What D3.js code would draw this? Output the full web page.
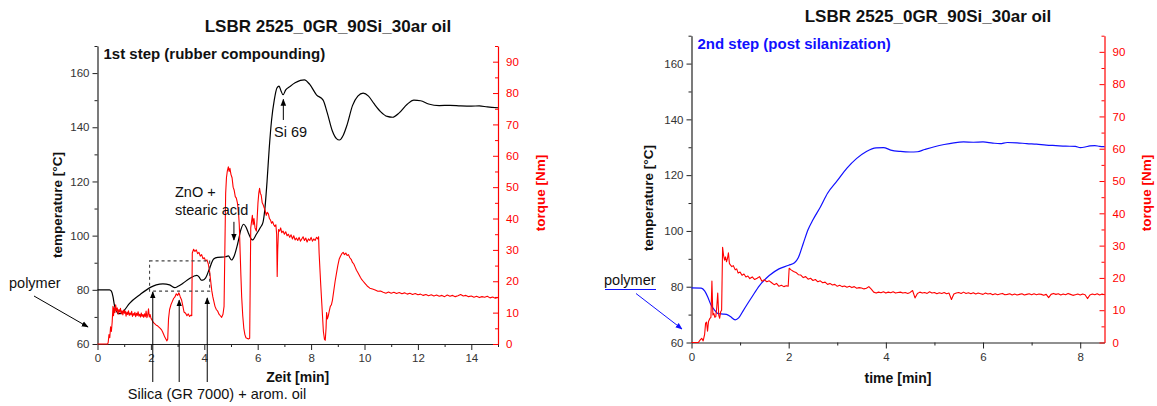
<!DOCTYPE html>
<html><head><meta charset="utf-8">
<script src="https://cdn.jsdelivr.net/npm/d3@7"></script>
<style>
body{margin:0;background:#fff;}
svg{display:block;font-family:"Liberation Sans",Arial,Helvetica,sans-serif;}
</style></head><body>
<svg id="c" width="1157" height="406"></svg>
<script>
// ---- 1st step: rubber compounding ----
const step1Temp = [[0,80],[0.45,80],[0.52,79.5],[0.58,77.5],[0.63,74.5],[0.7,72.3],[0.8,71.2],[0.9,71.4],[1.0,72.4],[1.2,75],[1.6,78.3],[2.0,81],[2.2,81.8],[2.45,82.2],[2.7,81.8],[2.9,80.8],[3.0,81.2],[3.2,82.4],[3.45,84.2],[3.72,85.3],[3.8,84.8],[3.88,83.6],[3.95,83.6],[4.05,84.4],[4.2,88],[4.35,91.4],[4.5,92],[4.8,92.2],[4.9,92.5],[5.02,91],[5.12,92.5],[5.25,97],[5.38,102.5],[5.47,104.2],[5.56,103.2],[5.65,101],[5.8,98.4],[5.95,100.5],[6.1,103],[6.2,105],[6.27,110],[6.35,120],[6.43,132],[6.52,142.7],[6.62,150],[6.72,154.5],[6.8,155.2],[6.87,153.5],[6.95,152],[7.05,153.8],[7.2,155],[7.4,156.4],[7.6,157.3],[7.75,157.5],[7.95,155.8],[8.2,152],[8.45,150],[8.6,145.5],[8.8,138.5],[8.95,135.8],[9.06,135.3],[9.2,137],[9.35,141],[9.55,148],[9.75,151.5],[9.95,152.6],[10.15,151.5],[10.35,148.8],[10.6,145.8],[10.85,144],[11.05,143.7],[11.3,145.3],[11.6,148.5],[11.85,150],[12.1,149.8],[12.4,148.6],[12.8,148],[13.2,148.1],[13.6,147.9],[14.0,147.8],[14.3,147.9],[14.6,147.5],[15,147.2]];

const step1Torque = [[0,0],[0.38,0],[0.4,0.5],[0.43,3],[0.46,2],[0.49,5.5],[0.52,4],[0.55,7],[0.58,12],[0.6,9],[0.62,11.5],[0.65,10],[0.68,12.5],[0.71,10.5],[0.74,11.5],[0.77,9.5],[0.8,11],[0.83,10.2],[0.86,11.4],[0.89,9.6],[0.92,10.6],[0.95,9.3],[0.98,10.8],[1.01,9.8],[1.04,10.5],[1.07,8.9],[1.1,10.2],[1.13,9.4],[1.16,10.6],[1.19,9.1],[1.22,9.9],[1.25,9.3],[1.28,10.4],[1.31,8.8],[1.34,9.7],[1.37,9.2],[1.4,10.1],[1.43,8.7],[1.46,9.8],[1.49,9.1],[1.52,10.3],[1.55,8.9],[1.58,9.5],[1.61,8.6],[1.64,9.9],[1.67,8.8],[1.7,9.4],[1.73,8.5],[1.76,9.6],[1.79,8.7],[1.82,10.5],[1.85,8.4],[1.88,9.2],[1.91,11.2],[1.94,8.6],[1.97,9.4],[2.0,8.3],[2.05,7.5],[2.1,6.8],[2.15,6.4],[2.2,6],[2.25,5.8],[2.3,5.4],[2.35,5],[2.4,4.5],[2.44,3.8],[2.48,3],[2.52,2.2],[2.56,1.6],[2.6,1],[2.63,1.5],[2.66,8],[2.7,11],[2.75,12.5],[2.8,13.5],[2.85,14.5],[2.9,15],[2.95,16],[3.0,15.5],[3.05,16.3],[3.1,15],[3.15,14],[3.2,12],[3.24,10.2],[3.3,9.8],[3.35,9],[3.4,9.6],[3.45,8.8],[3.5,9.2],[3.53,9],[3.55,29],[3.6,30.2],[3.65,29.5],[3.7,30],[3.75,28.8],[3.8,29.2],[3.85,28],[3.9,28.5],[3.95,27.2],[4.0,27.5],[4.05,26.5],[4.1,26.8],[4.15,25.5],[4.2,23],[4.24,20],[4.28,17],[4.32,15],[4.36,13.5],[4.4,12],[4.45,11],[4.5,10.5],[4.55,9.5],[4.6,9],[4.65,8.5],[4.7,9.5],[4.74,12],[4.77,30],[4.8,48],[4.83,53],[4.86,55],[4.9,56.5],[4.93,55],[4.96,56],[5.0,54],[5.04,53],[5.08,50],[5.12,49],[5.16,47],[5.2,46.5],[5.24,45],[5.28,42],[5.31,38],[5.34,30],[5.37,22],[5.4,15],[5.44,9],[5.48,5],[5.52,3],[5.56,2],[5.6,1.8],[5.65,1.6],[5.7,1.8],[5.72,20],[5.74,37],[5.77,39],[5.8,41],[5.83,38],[5.86,40],[5.9,37],[5.95,36],[5.98,40],[6.01,45],[6.04,48],[6.07,49.6],[6.1,48],[6.13,47.5],[6.17,45],[6.2,44.5],[6.24,43.5],[6.28,42.5],[6.32,41],[6.36,42],[6.4,41.5],[6.44,40],[6.48,39.5],[6.52,38.5],[6.56,39],[6.6,38],[6.64,37.5],[6.68,38],[6.71,35],[6.73,21.5],[6.75,30],[6.78,36.5],[6.82,36],[6.86,37],[6.9,35.5],[6.95,36],[7.0,35],[7.05,35.8],[7.1,34.5],[7.15,35],[7.2,34],[7.25,34.8],[7.3,33.5],[7.35,34.5],[7.4,33.2],[7.45,33.8],[7.5,33],[7.55,34],[7.6,32.8],[7.65,33.5],[7.7,34.2],[7.75,33],[7.8,33.8],[7.85,32.5],[7.9,33.5],[7.95,33],[8.0,34],[8.05,32.8],[8.1,33.5],[8.15,33],[8.2,34],[8.25,33.5],[8.28,34.2],[8.3,29],[8.33,24],[8.36,19],[8.4,13],[8.43,8.5],[8.46,4],[8.5,1.5],[8.53,1.2],[8.56,5],[8.58,10],[8.61,8],[8.64,8.8],[8.68,10.5],[8.72,12],[8.76,12.5],[8.8,14],[8.85,17],[8.9,20],[8.95,22.5],[9.0,25],[9.05,27],[9.1,28],[9.15,28.8],[9.2,29.2],[9.25,28.5],[9.3,29],[9.35,28.2],[9.4,28.5],[9.45,27.5],[9.5,27],[9.55,26],[9.6,25.5],[9.65,24.5],[9.7,23.5],[9.75,22.8],[9.8,22],[9.85,21.2],[9.9,20.5],[9.95,20],[10.0,19.5],[10.1,18.5],[10.2,17.8],[10.3,17.5],[10.4,17.2],[10.5,16.8],[10.6,16.9],[10.7,16.5],[10.8,16.2],[10.9,16.6],[11.0,16.2],[11.1,16.5],[11.2,16.1],[11.3,16.4],[11.4,16],[11.5,16.3],[11.6,15.9],[11.7,16.2],[11.8,15.8],[11.9,16.1],[12.0,15.7],[12.1,15.9],[12.2,15.5],[12.3,15.8],[12.4,15.4],[12.5,15.7],[12.6,15.3],[12.7,15.6],[12.8,15.2],[12.9,15.5],[13.0,15.1],[13.1,15.6],[13.2,15.2],[13.3,15.5],[13.4,15.1],[13.5,15.4],[13.6,15.8],[13.7,15.3],[13.8,15.5],[13.9,15.1],[14.0,15.3],[14.1,14.9],[14.2,15.2],[14.3,14.8],[14.4,15.1],[14.5,14.9],[14.6,15.2],[14.7,14.7],[14.8,15],[14.9,14.6],[15,14.8]];

// ---- 2nd step: post silanization ----
const step2Temp = [[0,79.6],[0.2,79.5],[0.27,78.5],[0.33,76.5],[0.4,73.5],[0.48,71.5],[0.55,70.3],[0.65,70.2],[0.72,70.1],[0.8,69.3],[0.9,68.1],[0.97,68.8],[1.05,71],[1.15,73.8],[1.25,76.5],[1.4,80.4],[1.6,84],[1.8,86.4],[2.0,87.7],[2.12,88.6],[2.2,90.5],[2.3,95.5],[2.4,100.5],[2.5,104],[2.65,108.5],[2.8,113.5],[3.0,118],[3.2,122.5],[3.4,126],[3.6,128.5],[3.8,129.8],[3.95,129.9],[4.1,129],[4.3,128.5],[4.5,128.3],[4.65,128.4],[4.8,129.2],[5.0,130.2],[5.2,131],[5.4,131.6],[5.6,131.9],[5.8,131.8],[6.0,131.9],[6.2,131.5],[6.35,131.3],[6.5,131.7],[6.7,131.6],[6.9,131.3],[7.1,131.1],[7.3,130.8],[7.5,130.6],[7.7,130.4],[7.9,130.3],[8.0,129.9],[8.1,130.1],[8.2,130.5],[8.3,130.6],[8.4,130.3],[8.5,130.2]];

const step2Torque = [[0,0],[0.14,0],[0.18,0.8],[0.21,1.3],[0.24,0.5],[0.27,2.5],[0.29,6],[0.31,6.3],[0.33,3.5],[0.35,6.5],[0.38,7.5],[0.4,7.8],[0.42,19],[0.44,8.5],[0.46,9],[0.48,7.8],[0.5,8],[0.52,11],[0.54,15.3],[0.56,8.5],[0.58,7.5],[0.6,9.5],[0.62,10],[0.64,29.5],[0.66,27],[0.68,25.5],[0.7,26.5],[0.72,25],[0.74,26],[0.76,27.8],[0.78,24.5],[0.8,24],[0.83,23.5],[0.86,23.8],[0.9,22.5],[0.93,22.8],[0.96,21.5],[1.0,21.8],[1.04,20.8],[1.08,21.2],[1.12,20.3],[1.16,20.6],[1.2,19.8],[1.25,20.3],[1.3,19.5],[1.35,19.9],[1.4,20.4],[1.45,19],[1.5,19.4],[1.55,18.8],[1.6,19.1],[1.65,18.5],[1.7,17.9],[1.75,18.3],[1.8,17.4],[1.85,17.7],[1.9,17.3],[1.95,17.6],[1.99,17.4],[2.01,23],[2.05,22.5],[2.1,22],[2.15,21.7],[2.2,21],[2.25,20.9],[2.3,20.1],[2.35,20.4],[2.4,19.6],[2.45,19.9],[2.5,19.2],[2.55,19.5],[2.6,18.8],[2.65,19.1],[2.7,18.5],[2.75,18.7],[2.8,18],[2.85,18.3],[2.9,17.8],[2.95,18],[3.0,17.4],[3.05,17.7],[3.1,17.3],[3.15,17.5],[3.2,17.1],[3.25,17.4],[3.3,17],[3.35,17.3],[3.4,16.8],[3.45,17],[3.5,16.9],[3.55,16.6],[3.6,16.8],[3.65,17.3],[3.7,16.5],[3.75,15.6],[3.8,15.3],[3.85,15.6],[3.9,15.4],[3.95,15.7],[4.0,15.3],[4.05,15.6],[4.1,15.4],[4.15,15.7],[4.2,15.3],[4.25,15.5],[4.3,15.6],[4.35,15.3],[4.4,15.5],[4.45,15.2],[4.5,15.5],[4.55,16.1],[4.6,13.8],[4.65,15.2],[4.7,15.6],[4.75,15.3],[4.8,15.5],[4.85,15.2],[4.9,15.7],[4.95,15.3],[5.0,15.5],[5.05,15.1],[5.1,15.4],[5.15,15.2],[5.2,15.5],[5.25,15.1],[5.3,15.3],[5.35,13.3],[5.4,15],[5.45,15.3],[5.5,15.5],[5.55,15.2],[5.6,15.6],[5.65,15.2],[5.7,15.4],[5.75,15.1],[5.8,15.4],[5.85,15],[5.9,15.3],[5.95,15.1],[6.0,14.9],[6.05,15.3],[6.1,15],[6.15,15.2],[6.2,14.8],[6.25,15.1],[6.3,14.8],[6.35,15],[6.4,15.2],[6.45,14.8],[6.5,14.9],[6.55,15.1],[6.6,14.7],[6.65,15],[6.7,14.7],[6.75,14.9],[6.8,15.1],[6.85,14.7],[6.9,14.9],[6.95,15.1],[7.0,14.8],[7.05,15.1],[7.1,14.8],[7.15,15],[7.2,14.9],[7.25,14.6],[7.3,14.9],[7.35,13.9],[7.4,14.9],[7.45,15.2],[7.5,14.9],[7.55,15.1],[7.6,14.7],[7.65,15],[7.7,14.8],[7.75,15.2],[7.8,14.9],[7.85,14.6],[7.9,14.8],[7.95,15],[8.0,14.7],[8.05,15],[8.1,14.8],[8.15,13.6],[8.2,14.7],[8.25,15],[8.3,14.8],[8.35,15.1],[8.4,14.7],[8.45,15],[8.5,14.8]];

// tick values shared by both panels
const tempMajor = [60,80,100,120,140,160];
const tempMinor = [70,90,110,130,150,170];
const torqueMajor = [0,10,20,30,40,50,60,70,80,90];
const torqueMinor = [5,15,25,35,45,55,65,75,85,95];

// annotation anchors (data units)
const silicaArrows = [[2.07,79.2],[3.06,76.2],[4.11,77.0]];
const silicaBox = {t0:1.95, t1:4.2, lo:79.5, hi:90.7};
const zincArrow = {t:5.11, from:105.1, to:98.4};
const silaneArrow = {t:6.96, from:142.7, to:150.3};

const svg = d3.select("#c");
const RED = "#ff0000", BLUE = "#1010ff", AX = "#222";
const NOTE = "14.5px";

const defs = svg.append("defs");
function marker(id, color){
  defs.append("marker").attr("id", id).attr("viewBox","0 0 10 10")
    .attr("refX",9).attr("refY",5).attr("markerWidth",7).attr("markerHeight",7)
    .attr("markerUnits","userSpaceOnUse").attr("orient","auto")
    .append("path").attr("d","M0,1 L10,5 L0,9 Z").attr("fill",color);
}
marker("ahK", "#000");
marker("ahB", BLUE);

function panel(o){
  const g = svg.append("g");
  const x = d3.scaleLinear().domain([0,o.xmax]).range([o.left,o.right]);
  const yT = d3.scaleLinear().domain([60,170]).range([o.bottom,o.top]);
  const yQ = d3.scaleLinear().domain([0,95]).range([o.bottom,o.top]);

  const styleAxis = (sel, color) => {
    sel.selectAll("path.domain").attr("stroke", color).attr("stroke-width",1.2);
    sel.selectAll(".tick line").attr("stroke", color).attr("stroke-width",1);
    sel.selectAll(".tick text").attr("fill", color === RED ? RED : "#333")
      .style("font-size","11.5px").style("font-family",'"Liberation Sans",Arial,sans-serif');
  };

  // bottom axis
  const xMaj = d3.range(0, o.xmax + 1e-9, 2);
  const xMin = d3.range(1, o.xmax + 1e-9, 2);
  const gx = g.append("g").attr("transform",`translate(0,${o.bottom})`)
    .call(d3.axisBottom(x).tickValues(xMaj).tickSizeInner(6).tickSizeOuter(0).tickPadding(4).tickFormat(d3.format("d")));
  styleAxis(gx, AX);
  const gx2 = g.append("g").attr("transform",`translate(0,${o.bottom})`)
    .call(d3.axisBottom(x).tickValues(xMin).tickSizeInner(3).tickSizeOuter(0).tickFormat(""));
  gx2.select("path.domain").remove(); styleAxis(gx2, AX);

  // left temperature axis
  const gl = g.append("g").attr("transform",`translate(${o.left},0)`)
    .call(d3.axisLeft(yT).tickValues(tempMajor).tickSizeInner(5).tickSizeOuter(0).tickPadding(3));
  styleAxis(gl, AX);
  const gl2 = g.append("g").attr("transform",`translate(${o.left},0)`)
    .call(d3.axisLeft(yT).tickValues(tempMinor).tickSizeInner(3).tickSizeOuter(0).tickFormat(""));
  gl2.select("path.domain").remove(); styleAxis(gl2, AX);

  // right torque axis (ticks point inward)
  const gr = g.append("g").attr("transform",`translate(${o.right},0)`)
    .call(d3.axisRight(yQ).tickValues(torqueMajor).tickSizeInner(-5).tickSizeOuter(0).tickPadding(8));
  styleAxis(gr, RED);
  const gr2 = g.append("g").attr("transform",`translate(${o.right},0)`)
    .call(d3.axisRight(yQ).tickValues(torqueMinor).tickSizeInner(-3).tickSizeOuter(0).tickFormat(""));
  gr2.select("path.domain").remove(); styleAxis(gr2, RED);

  // curves
  const lineQ = d3.line().x(d=>x(d[0])).y(d=>yQ(d[1]));
  const lineT = d3.line().x(d=>x(d[0])).y(d=>yT(d[1])).curve(d3.curveMonotoneX);
  g.append("path").datum(o.temp).attr("d", lineT).attr("fill","none")
    .attr("stroke", o.tempColor).attr("stroke-width",1.2);
  g.append("path").datum(o.torque).attr("d", lineQ).attr("fill","none")
    .attr("stroke", RED).attr("stroke-width",1.1).attr("stroke-linejoin","round");

  // titles
  g.append("text").attr("x", o.titleX).attr("y", o.titleY).attr("text-anchor","middle")
    .style("font-size","17px").style("font-weight","bold").attr("fill","#111")
    .text("LSBR 2525_0GR_90Si_30ar oil");
  g.append("text").attr("x", o.left + 6).attr("y", o.stepY)
    .style("font-size","15px").style("font-weight","bold").attr("fill", o.stepColor)
    .text(o.stepText);
  g.append("text").attr("transform",`translate(${o.yLabelX},${o.tLabelY}) rotate(-90)`)
    .attr("text-anchor","middle").style("font-size","13.5px").style("font-weight","bold").attr("fill","#111")
    .text("temperature [°C]");
  g.append("text").attr("transform",`translate(${o.qLabelX},${o.qLabelY}) rotate(-90)`)
    .attr("text-anchor","middle").style("font-size","13.5px").style("font-weight","bold").attr("fill", RED)
    .text("torque [Nm]");
  g.append("text").attr("x", (o.left+o.right)/2).attr("y", o.xLabelY).attr("text-anchor","middle")
    .style("font-size","14px").style("font-weight","bold").attr("fill","#111")
    .text(o.xLabel);
  return {g, x, yT, yQ};
}

const p1 = panel({left:97.5, right:498, top:46, bottom:344, xmax:15,
  temp:step1Temp, torque:step1Torque, tempColor:"#000",
  titleX:328, titleY:32, stepY:59, stepText:"1st step (rubber compounding)", stepColor:"#111",
  yLabelX:62, tLabelY:205, qLabelX:545, qLabelY:193, xLabel:"Zeit [min]", xLabelY:382});

const p2 = panel({left:691.5, right:1104.5, top:35.7, bottom:342.5, xmax:8.5,
  temp:step2Temp, torque:step2Torque, tempColor:BLUE,
  titleX:928, titleY:22, stepY:49, stepText:"2nd step (post silanization)", stepColor:BLUE,
  yLabelX:653, tLabelY:198, qLabelX:1151, qLabelY:193, xLabel:"time [min]", xLabelY:383});

// ---- annotations, 1st step ----
const a = p1.g;
const txt = (g, x, y, s, col) => g.append("text").attr("x",x).attr("y",y)
  .style("font-size",NOTE).attr("fill", col || "#111").text(s);

txt(a, 9, 288, "polymer");
a.append("line").attr("x1",34).attr("y1",296).attr("x2",88).attr("y2",327)
  .attr("stroke","#000").attr("stroke-width",1).attr("marker-end","url(#ahK)");

a.append("rect")
  .attr("x", p1.x(silicaBox.t0)).attr("y", p1.yT(silicaBox.hi))
  .attr("width", p1.x(silicaBox.t1)-p1.x(silicaBox.t0))
  .attr("height", p1.yT(silicaBox.lo)-p1.yT(silicaBox.hi))
  .attr("fill","none").attr("stroke","#444").attr("stroke-width",1.1).attr("stroke-dasharray","3,3");

silicaArrows.forEach(d=>{
  a.append("line").attr("x1",p1.x(d[0])).attr("x2",p1.x(d[0]))
    .attr("y1",382).attr("y2",p1.yT(d[1]))
    .attr("stroke","#000").attr("stroke-width",1).attr("marker-end","url(#ahK)");
});
a.append("text").attr("x",217).attr("y",399).attr("text-anchor","middle")
  .style("font-size",NOTE).attr("fill","#111").text("Silica (GR 7000) + arom. oil");

txt(a, 175, 197, "ZnO +");
txt(a, 175, 215, "stearic acid");
a.append("line").attr("x1",p1.x(zincArrow.t)).attr("x2",p1.x(zincArrow.t))
  .attr("y1",p1.yT(zincArrow.from)).attr("y2",p1.yT(zincArrow.to))
  .attr("stroke","#000").attr("stroke-width",1).attr("marker-end","url(#ahK)");

a.append("line").attr("x1",p1.x(silaneArrow.t)).attr("x2",p1.x(silaneArrow.t))
  .attr("y1",p1.yT(silaneArrow.from)).attr("y2",p1.yT(silaneArrow.to))
  .attr("stroke","#000").attr("stroke-width",1).attr("marker-end","url(#ahK)");
txt(a, 274, 137, "Si 69");

// ---- annotations, 2nd step ----
const b = p2.g;
txt(b, 604, 285, "polymer");
b.append("line").attr("x1",605).attr("x2",656).attr("y1",289.5).attr("y2",289.5)
  .attr("stroke",BLUE).attr("stroke-width",1);
b.append("line").attr("x1",636).attr("y1",293.5).attr("x2",682).attr("y2",329)
  .attr("stroke",BLUE).attr("stroke-width",1).attr("marker-end","url(#ahB)");
</script>
</body></html>
